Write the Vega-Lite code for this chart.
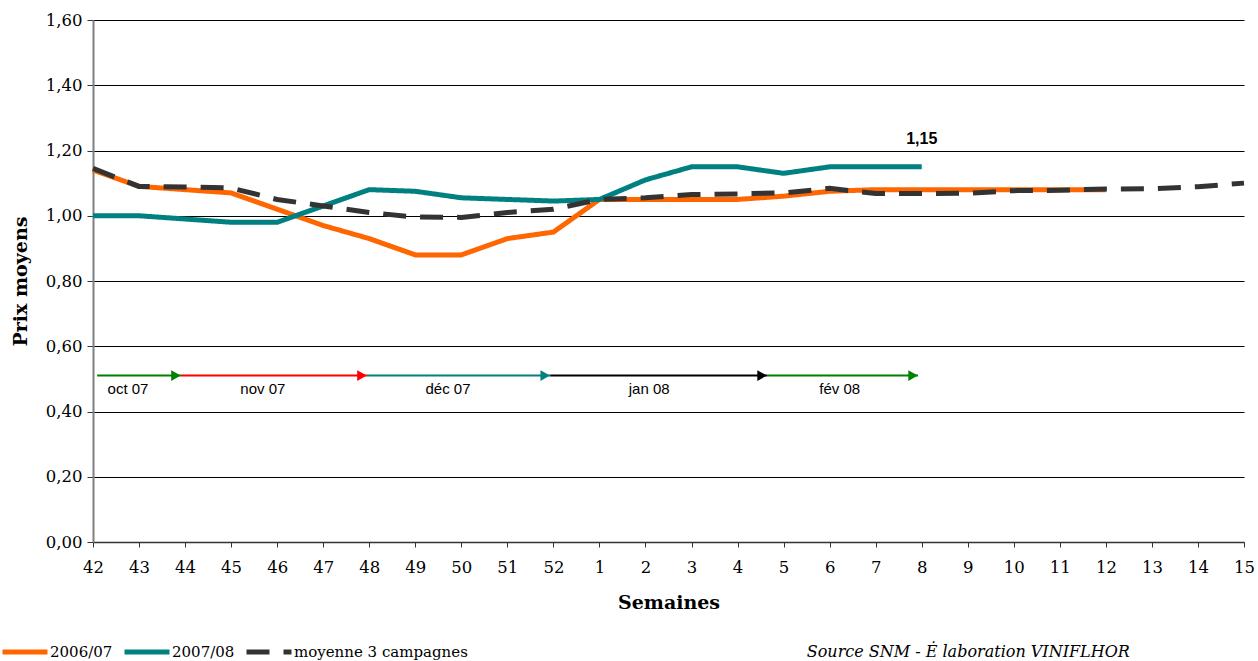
{
  "$schema": "https://vega.github.io/schema/vega-lite/v6.json",
  "width": 1151,
  "height": 522,
  "autosize": {"type": "none"},
  "padding": {"left": 93, "top": 20, "right": 14, "bottom": 119},
  "background": "white",
  "config": {"view": {"stroke": null}},
  "datasets": {
    "prices": [
      {"i": 0, "serie": "2006/07", "v": 1.14},
      {"i": 1, "serie": "2006/07", "v": 1.09},
      {"i": 2, "serie": "2006/07", "v": 1.08},
      {"i": 3, "serie": "2006/07", "v": 1.07},
      {"i": 4, "serie": "2006/07", "v": 1.02},
      {"i": 5, "serie": "2006/07", "v": 0.97},
      {"i": 6, "serie": "2006/07", "v": 0.93},
      {"i": 7, "serie": "2006/07", "v": 0.88},
      {"i": 8, "serie": "2006/07", "v": 0.88},
      {"i": 9, "serie": "2006/07", "v": 0.93},
      {"i": 10, "serie": "2006/07", "v": 0.95},
      {"i": 11, "serie": "2006/07", "v": 1.05},
      {"i": 12, "serie": "2006/07", "v": 1.05},
      {"i": 13, "serie": "2006/07", "v": 1.05},
      {"i": 14, "serie": "2006/07", "v": 1.05},
      {"i": 15, "serie": "2006/07", "v": 1.06},
      {"i": 16, "serie": "2006/07", "v": 1.075},
      {"i": 17, "serie": "2006/07", "v": 1.08},
      {"i": 18, "serie": "2006/07", "v": 1.08},
      {"i": 19, "serie": "2006/07", "v": 1.08},
      {"i": 20, "serie": "2006/07", "v": 1.08},
      {"i": 21, "serie": "2006/07", "v": 1.08},
      {"i": 22, "serie": "2006/07", "v": 1.08},
      {"i": 0, "serie": "2007/08", "v": 1.0},
      {"i": 1, "serie": "2007/08", "v": 1.0},
      {"i": 2, "serie": "2007/08", "v": 0.99},
      {"i": 3, "serie": "2007/08", "v": 0.98},
      {"i": 4, "serie": "2007/08", "v": 0.98},
      {"i": 5, "serie": "2007/08", "v": 1.03},
      {"i": 6, "serie": "2007/08", "v": 1.08},
      {"i": 7, "serie": "2007/08", "v": 1.075},
      {"i": 8, "serie": "2007/08", "v": 1.055},
      {"i": 9, "serie": "2007/08", "v": 1.05},
      {"i": 10, "serie": "2007/08", "v": 1.045},
      {"i": 11, "serie": "2007/08", "v": 1.05},
      {"i": 12, "serie": "2007/08", "v": 1.11},
      {"i": 13, "serie": "2007/08", "v": 1.15},
      {"i": 14, "serie": "2007/08", "v": 1.15},
      {"i": 15, "serie": "2007/08", "v": 1.13},
      {"i": 16, "serie": "2007/08", "v": 1.15},
      {"i": 17, "serie": "2007/08", "v": 1.15},
      {"i": 18, "serie": "2007/08", "v": 1.15},
      {"i": 0, "serie": "moyenne 3 campagnes", "v": 1.145},
      {"i": 1, "serie": "moyenne 3 campagnes", "v": 1.09},
      {"i": 2, "serie": "moyenne 3 campagnes", "v": 1.088},
      {"i": 3, "serie": "moyenne 3 campagnes", "v": 1.085},
      {"i": 4, "serie": "moyenne 3 campagnes", "v": 1.05},
      {"i": 5, "serie": "moyenne 3 campagnes", "v": 1.03},
      {"i": 6, "serie": "moyenne 3 campagnes", "v": 1.01},
      {"i": 7, "serie": "moyenne 3 campagnes", "v": 0.996},
      {"i": 8, "serie": "moyenne 3 campagnes", "v": 0.995},
      {"i": 9, "serie": "moyenne 3 campagnes", "v": 1.01},
      {"i": 10, "serie": "moyenne 3 campagnes", "v": 1.02},
      {"i": 11, "serie": "moyenne 3 campagnes", "v": 1.05},
      {"i": 12, "serie": "moyenne 3 campagnes", "v": 1.055},
      {"i": 13, "serie": "moyenne 3 campagnes", "v": 1.065},
      {"i": 14, "serie": "moyenne 3 campagnes", "v": 1.067},
      {"i": 15, "serie": "moyenne 3 campagnes", "v": 1.07},
      {"i": 16, "serie": "moyenne 3 campagnes", "v": 1.084},
      {"i": 17, "serie": "moyenne 3 campagnes", "v": 1.068},
      {"i": 18, "serie": "moyenne 3 campagnes", "v": 1.068},
      {"i": 19, "serie": "moyenne 3 campagnes", "v": 1.069},
      {"i": 20, "serie": "moyenne 3 campagnes", "v": 1.077},
      {"i": 21, "serie": "moyenne 3 campagnes", "v": 1.078},
      {"i": 22, "serie": "moyenne 3 campagnes", "v": 1.082},
      {"i": 23, "serie": "moyenne 3 campagnes", "v": 1.083},
      {"i": 24, "serie": "moyenne 3 campagnes", "v": 1.089},
      {"i": 25, "serie": "moyenne 3 campagnes", "v": 1.1}
    ],
    "months": [
      {"m": "oct 07", "a": 0.09, "b": 1.91, "mid": 0.76, "c": "#008000"},
      {"m": "nov 07", "a": 1.91, "b": 5.95, "mid": 3.69, "c": "#FF0000"},
      {"m": "déc 07", "a": 5.95, "b": 9.93, "mid": 7.71, "c": "#008080"},
      {"m": "jan 08", "a": 9.93, "b": 14.64, "mid": 12.08, "c": "#000000"},
      {"m": "fév 08", "a": 14.64, "b": 17.92, "mid": 16.22, "c": "#008000"}
    ],
    "notes": [
      {"i": 18, "v": 1.15, "t": "1,15"}
    ],
    "source": [
      {"i": 22.52, "v": -0.337, "t": "Source SNM -  Ė laboration VINIFLHOR"}
    ]
  },
  "layer": [
    {
      "data": {"name": "prices"},
      "mark": {"type": "line", "strokeCap": "butt", "strokeJoin": "miter"},
      "encoding": {
        "x": {
          "field": "i",
          "type": "quantitative",
          "scale": {"domain": [0, 25], "nice": false, "zero": false},
          "axis": {
            "values": [0,1,2,3,4,5,6,7,8,9,10,11,12,13,14,15,16,17,18,19,20,21,22,23,24,25],
            "labelExpr": "datum.value <= 10 ? datum.value + 42 : datum.value - 10",
            "title": "Semaines",
            "titleFont": "DejaVu Serif",
            "titleFontWeight": "bold",
            "titleFontSize": 19,
            "titleColor": "#000000",
            "titlePadding": 18,
            "labelFont": "DejaVu Serif",
            "labelFontSize": 16.5,
            "labelColor": "#000000",
            "labelPadding": 12,
            "labelFlush": false,
            "labelOverlap": false,
            "grid": false,
            "domainColor": "#333333",
            "domainWidth": 1.5,
            "tickColor": "#333333",
            "tickSize": 5,
            "tickWidth": 1
          }
        },
        "y": {
          "field": "v",
          "type": "quantitative",
          "scale": {"domain": [0, 1.6], "nice": false},
          "axis": {
            "values": [0, 0.2, 0.4, 0.6, 0.8, 1.0, 1.2, 1.4, 1.6],
            "labelExpr": "replace(format(datum.value, '.2f'), '.', ',')",
            "title": "Prix moyens",
            "titleFont": "DejaVu Serif",
            "titleFontWeight": "bold",
            "titleFontSize": 19,
            "titleColor": "#000000",
            "titlePadding": 15,
            "labelFont": "DejaVu Serif",
            "labelFontSize": 16.5,
            "labelColor": "#000000",
            "labelPadding": 5,
            "grid": true,
            "gridColor": "#000000",
            "gridWidth": 1,
            "gridOpacity": 1,
            "domainColor": "#808080",
            "domainWidth": 2,
            "tickColor": "#333333",
            "tickSize": 6
          }
        },
        "color": {
          "field": "serie",
          "type": "nominal",
          "scale": {
            "domain": ["2006/07", "2007/08", "moyenne 3 campagnes"],
            "range": ["#FF6600", "#008080", "#333333"]
          },
          "legend": {
            "title": null,
            "orient": "none",
            "direction": "horizontal",
            "legendX": -93,
            "legendY": 607,
            "symbolType": "stroke",
            "symbolSize": 2025,
            "symbolStrokeWidth": 5,
            "labelFont": "DejaVu Serif",
            "labelFontSize": 15,
            "labelColor": "#000000",
            "labelOffset": 0,
            "labelLimit": 400,
            "columnPadding": 1
          }
        },
        "strokeDash": {
          "field": "serie",
          "type": "nominal",
          "scale": {
            "domain": ["2006/07", "2007/08", "moyenne 3 campagnes"],
            "range": [[1, 0], [1, 0], [23, 14]]
          },
          "legend": {
            "title": null,
            "orient": "none",
            "direction": "horizontal",
            "legendX": -93,
            "legendY": 607,
            "symbolType": "stroke",
            "symbolSize": 2025,
            "symbolStrokeWidth": 5,
            "labelFont": "DejaVu Serif",
            "labelFontSize": 15,
            "labelColor": "#000000",
            "labelOffset": 0,
            "labelLimit": 400,
            "columnPadding": 1
          }
        },
        "strokeWidth": {
          "field": "serie",
          "type": "nominal",
          "scale": {
            "domain": ["2006/07", "2007/08", "moyenne 3 campagnes"],
            "range": [5, 5, 4]
          },
          "legend": null
        }
      }
    },
    {
      "data": {"name": "months"},
      "mark": {"type": "rule", "strokeWidth": 2},
      "encoding": {
        "x": {"field": "a", "type": "quantitative"},
        "x2": {"field": "b"},
        "y": {"datum": 0.51},
        "color": {"field": "c", "type": "nominal", "scale": null, "legend": null}
      }
    },
    {
      "data": {"name": "months"},
      "mark": {"type": "point", "shape": "triangle-right", "filled": true, "size": 120, "opacity": 1, "xOffset": -5},
      "encoding": {
        "x": {"field": "b", "type": "quantitative"},
        "y": {"datum": 0.51},
        "color": {"field": "c", "type": "nominal", "scale": null, "legend": null}
      }
    },
    {
      "data": {"name": "months"},
      "mark": {"type": "text", "font": "Liberation Sans", "fontSize": 15, "dy": 13, "baseline": "middle", "align": "center", "color": "#000000"},
      "encoding": {
        "x": {"field": "mid", "type": "quantitative"},
        "y": {"datum": 0.51},
        "text": {"field": "m"}
      }
    },
    {
      "data": {"name": "notes"},
      "mark": {"type": "text", "font": "Liberation Sans", "fontWeight": "bold", "fontSize": 16, "dy": -28, "baseline": "middle", "align": "center", "color": "#000000"},
      "encoding": {
        "x": {"field": "i", "type": "quantitative"},
        "y": {"field": "v", "type": "quantitative"},
        "text": {"field": "t"}
      }
    },
    {
      "data": {"name": "source"},
      "mark": {"type": "text", "font": "DejaVu Serif", "fontStyle": "italic", "fontSize": 16, "baseline": "middle", "align": "right", "color": "#000000"},
      "encoding": {
        "x": {"field": "i", "type": "quantitative"},
        "y": {"field": "v", "type": "quantitative"},
        "text": {"field": "t"}
      }
    }
  ]
}
